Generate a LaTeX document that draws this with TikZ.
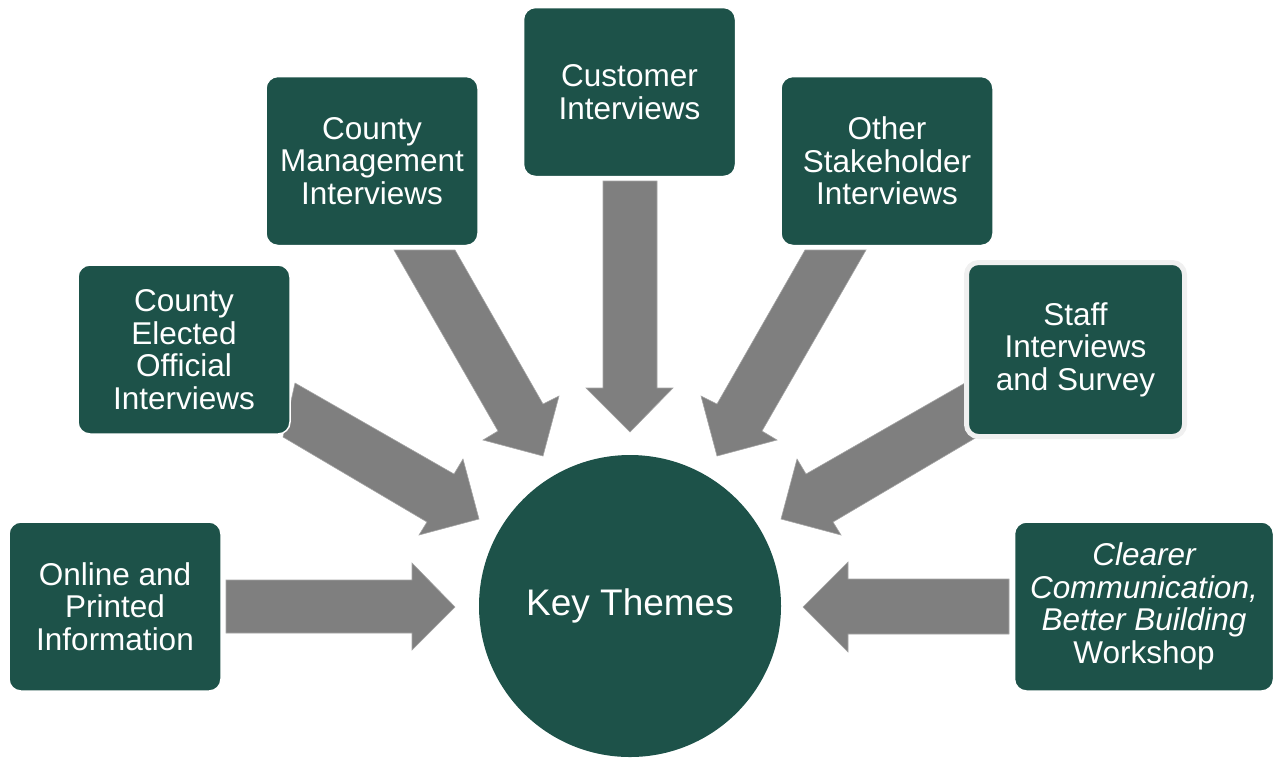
\documentclass[tikz,border=0pt]{standalone}
\usepackage{fontspec}
\setmainfont{Liberation Sans}
\definecolor{boxgreen}{RGB}{29,82,73}
\definecolor{arrowgray}{RGB}{127,127,127}
\definecolor{arrowedge}{RGB}{165,165,165}
\definecolor{halo}{RGB}{240,240,240}
\begin{document}
\begin{tikzpicture}[x=0.5pt,y=-0.5pt,
  srcbox/.style={rectangle, rounded corners=6pt, fill=boxgreen, draw=white, line width=0.75pt,
    text=white, align=center, inner sep=0pt, minimum width=106pt, minimum height=84.5pt,
    font=\fontsize{15.75}{16.3}\selectfont},
  blockarrow/.style={fill=arrowgray, draw=arrowedge, line width=0.3pt, line join=miter},
  hub/.style={circle, fill=boxgreen, text=white, inner sep=0pt, minimum size=151pt,
    font=\fontsize{18.5}{22}\selectfont}]
\useasboundingbox (0,0) rectangle (1273,757);
% block arrows
\fill[blockarrow] (226,580) -- (412,580) -- (412,563) -- (455,607) -- (412,650) -- (412,633) -- (226,633) -- cycle;
\fill[blockarrow] (295,383) -- (454,474) -- (463,459) -- (479,519) -- (419,535) -- (427,522) -- (283,437) -- cycle;
\fill[blockarrow] (394,250) -- (455,250) -- (543,404) -- (559,396) -- (543,456) -- (483,440) -- (498,431) -- cycle;
\fill[blockarrow] (603,181) -- (657,181) -- (657,388) -- (673,388) -- (630,432) -- (586,388) -- (603,388) -- cycle;
\fill[blockarrow] (866,250) -- (805,250) -- (717,404) -- (701,396) -- (717,456) -- (777,440) -- (762,431) -- cycle;
\fill[blockarrow] (965,383) -- (806,474) -- (797,459) -- (781,519) -- (841,535) -- (833,522) -- (977,437) -- cycle;
\fill[blockarrow] (1009,579) -- (848,579) -- (848,562) -- (803,607) -- (848,652) -- (848,634) -- (1009,634) -- cycle;
% source boxes
\node[srcbox] (online) at (115,606.5) {Online and\\Printed\\Information};
\node[srcbox] (elected) at (184,349.5) {County\\Elected\\Official\\Interviews};
\node[srcbox] (mgmt) at (372,161) {County\\Management\\Interviews};
\node[srcbox] (cust) at (629.5,92) {Customer\\Interviews};
\node[srcbox] (other) at (887,161) {Other\\Stakeholder\\Interviews};
\node[srcbox, draw=halo, line width=2.5pt, minimum width=109pt, minimum height=87pt] (staff) at (1075.5,349.5) {Staff\\Interviews\\and Survey};
\node[srcbox, minimum width=129.5pt] (work) at (1144,606.5) {{\itshape Clearer}\\{\itshape Communication,}\\{\itshape Better Building}\\Workshop};
% hub
\node[hub] (key) at (630,606) {Key Themes};
\end{tikzpicture}
\end{document}
